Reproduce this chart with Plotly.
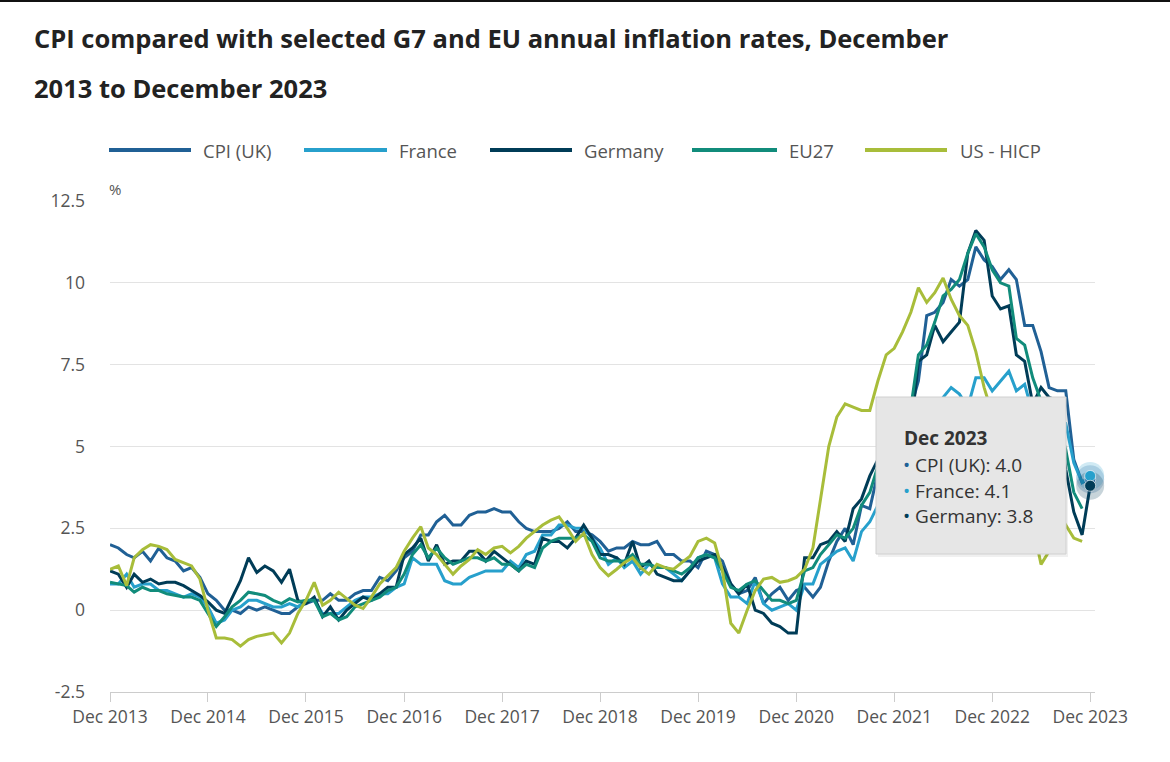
import pandas as pd
import plotly.graph_objects as go

# ---------------- data ----------------
start_month = "2013-12-01"
tick_labels = ["Dec 2013", "Dec 2014", "Dec 2015", "Dec 2016", "Dec 2017", "Dec 2018",
               "Dec 2019", "Dec 2020", "Dec 2021", "Dec 2022", "Dec 2023"]
y_tick_values = [-2.5, 0, 2.5, 5, 7.5, 10, 12.5]
y_tick_labels = ["-2.5", "0", "2.5", "5", "7.5", "10", "12.5"]

cpi_uk = [2.0,
          1.9, 1.7, 1.6, 1.8, 1.5, 1.9, 1.6, 1.5, 1.2, 1.3, 1.0, 0.5,
          0.3, 0.0, 0.0, -0.1, 0.1, 0.0, 0.1, 0.0, -0.1, -0.1, 0.1, 0.2,
          0.3, 0.3, 0.5, 0.3, 0.3, 0.5, 0.6, 0.6, 1.0, 0.9, 1.2, 1.6,
          1.8, 2.3, 2.3, 2.7, 2.9, 2.6, 2.6, 2.9, 3.0, 3.0, 3.1, 3.0,
          3.0, 2.7, 2.5, 2.4, 2.4, 2.4, 2.5, 2.7, 2.4, 2.4, 2.3, 2.1,
          1.8, 1.9, 1.9, 2.1, 2.0, 2.0, 2.1, 1.7, 1.7, 1.5, 1.5, 1.3,
          1.8, 1.7, 1.5, 0.8, 0.5, 0.6, 1.0, 0.2, 0.5, 0.7, 0.3, 0.6,
          0.7, 0.4, 0.7, 1.5, 2.1, 2.5, 2.0, 3.2, 3.1, 4.2, 5.1, 5.4,
          5.5, 6.2, 7.0, 9.0, 9.1, 9.4, 10.1, 9.9, 10.1, 11.1, 10.7, 10.5,
          10.1, 10.4, 10.1, 8.7, 8.7, 7.9, 6.8, 6.7, 6.7, 4.6, 3.9, 4.0]

france = [0.8,
          0.8, 1.1, 0.7, 0.8, 0.8, 0.6, 0.6, 0.5, 0.4, 0.5, 0.4, 0.1,
          -0.4, -0.3, 0.0, 0.1, 0.3, 0.3, 0.2, 0.1, 0.1, 0.2, 0.1, 0.3,
          0.3, -0.1, -0.1, -0.1, 0.1, 0.3, 0.4, 0.4, 0.5, 0.5, 0.7, 0.8,
          1.6, 1.4, 1.4, 1.4, 0.9, 0.8, 0.8, 1.0, 1.1, 1.2, 1.2, 1.2,
          1.5, 1.3, 1.7, 1.8, 2.3, 2.3, 2.6, 2.6, 2.5, 2.5, 2.2, 1.9,
          1.4, 1.6, 1.3, 1.5, 1.1, 1.4, 1.3, 1.3, 1.1, 0.9, 1.2, 1.6,
          1.7, 1.6, 0.8, 0.4, 0.4, 0.2, 0.9, 0.2, 0.0, 0.1, 0.2, 0.0,
          0.8, 0.8, 1.4, 1.6, 1.8, 1.9, 1.5, 2.4, 2.7, 3.2, 3.4, 3.4,
          3.3, 4.2, 5.1, 5.4, 5.8, 6.5, 6.8, 6.6, 6.2, 7.1, 7.1, 6.7,
          7.0, 7.3, 6.7, 6.9, 6.0, 5.3, 5.1, 5.7, 5.7, 4.5, 3.9, 4.1]

germany = [1.2,
           1.1, 0.7, 1.1, 0.85, 0.95, 0.8, 0.85, 0.85, 0.75, 0.6, 0.45, 0.25,
           0.0, -0.1, 0.4, 0.9, 1.6, 1.15, 1.35, 1.2, 0.85, 1.25, 0.3, 0.2,
           0.4, -0.2, 0.1, -0.3, 0.0, 0.2, 0.4, 0.3, 0.5, 0.7, 0.7, 1.7,
           1.9, 2.2, 1.5, 2.0, 1.4, 1.5, 1.5, 1.8, 1.8, 1.5, 1.8, 1.6,
           1.4, 1.2, 1.5, 1.4, 2.2, 2.1, 2.1, 1.9, 2.2, 2.6, 2.2, 1.7,
           1.7, 1.6, 1.4, 2.1, 1.3, 1.5, 1.1, 1.0, 0.9, 0.9, 1.2, 1.5,
           1.6, 1.7, 1.3, 0.8, 0.5, 0.8, 0.0, -0.1, -0.4, -0.5, -0.7, -0.7,
           1.6, 1.6, 2.0, 2.1, 2.4, 2.1, 3.1, 3.4, 4.1, 4.6, 6.0, 5.7,
           5.1, 5.5, 7.6, 7.8, 8.7, 8.2, 8.5, 8.8, 10.9, 11.6, 11.3, 9.6,
           9.2, 9.3, 7.8, 7.6, 6.3, 6.8, 6.5, 6.4, 4.3, 3.0, 2.3, 3.8]

eu27 = [0.85,
        0.8, 0.75, 0.55, 0.7, 0.6, 0.6, 0.5, 0.45, 0.4, 0.4, 0.3, -0.1,
        -0.5, -0.2, 0.1, 0.3, 0.55, 0.5, 0.45, 0.3, 0.2, 0.35, 0.25, 0.3,
        0.3, -0.2, -0.1, -0.3, -0.2, 0.1, 0.2, 0.3, 0.4, 0.6, 0.7, 1.1,
        1.7, 2.0, 1.6, 1.9, 1.6, 1.4, 1.5, 1.6, 1.6, 1.5, 1.6, 1.4,
        1.4, 1.2, 1.4, 1.3, 1.9, 2.1, 2.2, 2.2, 2.2, 2.3, 2.1, 1.6,
        1.5, 1.5, 1.5, 1.7, 1.4, 1.4, 1.3, 1.3, 1.2, 1.1, 1.3, 1.6,
        1.7, 1.6, 1.2, 0.7, 0.6, 0.8, 0.9, 0.6, 0.3, 0.3, 0.2, 0.3,
        1.2, 1.3, 1.7, 2.0, 2.3, 2.2, 2.5, 3.2, 3.6, 4.4, 5.2, 5.3,
        5.6, 6.2, 7.8, 8.1, 8.8, 9.6, 9.8, 10.1, 10.9, 11.5, 11.1, 10.4,
        10.0, 9.9, 8.3, 8.1, 7.1, 6.4, 6.1, 5.9, 4.9, 3.6, 3.1]

us_hicp = [1.25,
           1.35, 0.75, 1.6, 1.85, 2.0, 1.95, 1.85, 1.55, 1.45, 1.35, 0.95, 0.0,
           -0.85, -0.85, -0.9, -1.1, -0.9, -0.8, -0.75, -0.7, -1.0, -0.7, -0.1, 0.3,
           0.85, 0.15, 0.3, 0.55, 0.35, 0.15, 0.05, 0.4, 0.8, 1.05, 1.3, 1.8,
           2.2, 2.55, 1.9, 1.7, 1.4, 1.1, 1.35, 1.55, 1.85, 1.7, 1.9, 1.95,
           1.75, 1.95, 2.2, 2.4, 2.6, 2.75, 2.85, 2.5, 2.1, 2.35, 1.7, 1.3,
           1.05, 1.25, 1.45, 1.6, 1.3, 1.1, 1.4, 1.3, 1.25, 1.45, 1.65, 2.1,
           2.2, 2.05, 1.2, -0.4, -0.7, 0.0, 0.6, 0.95, 1.0, 0.85, 0.9, 1.0,
           1.25, 1.9, 3.4, 5.0, 5.9, 6.3, 6.2, 6.1, 6.1, 7.0, 7.8, 8.0,
           8.5, 9.1, 9.85, 9.4, 9.7, 10.15, 9.5, 9.0, 8.7, 7.9, 6.8, 6.0,
           5.4, 4.9, 4.5, 3.7, 2.6, 1.4, 1.8, 2.3, 2.6, 2.2, 2.1]

series_names = ["CPI (UK)", "France", "Germany", "EU27", "US - HICP"]
series_colors = ["#206095", "#27A0CC", "#003C57", "#118C7B", "#A8BD3A"]
series_values = [cpi_uk, france, germany, eu27, us_hicp]

months = pd.date_range(start_month, periods=len(cpi_uk), freq="MS")
tick_dates = months[::12]

# ---------------- layout helpers ----------------
W, H = 1170, 762
L, R, T, B = 110, 1095, 201, 692


def px(x):
    return (x - L) / (R - L)


def py(y):
    return (B - y) / (B - T)


fig = go.Figure()

for name, color, vals in zip(series_names, series_colors, series_values):
    fig.add_trace(go.Scatter(
        x=months[:len(vals)], y=vals, mode="lines", name=name,
        line=dict(color=color, width=3), hoverinfo="skip"))

# hover highlight at Dec 2023 (series that have a value there)
for name, color, vals in zip(series_names, series_colors, series_values):
    if len(vals) == len(months):
        fig.add_trace(go.Scatter(
            x=[months[-1]], y=[vals[-1]], mode="markers",
            marker=dict(size=28, color=color, opacity=0.22, line=dict(width=0)),
            hoverinfo="skip", showlegend=False, cliponaxis=False))
for name, color, vals in zip(series_names, series_colors, series_values):
    if len(vals) == len(months):
        fig.add_trace(go.Scatter(
            x=[months[-1]], y=[vals[-1]], mode="markers",
            marker=dict(size=11, color=color, line=dict(width=1, color="rgba(255,255,255,0.6)")),
            hoverinfo="skip", showlegend=False, cliponaxis=False))

annotations = []
shapes = []

# top border line of the screenshot
shapes.append(dict(type="line", xref="paper", yref="paper",
                   x0=px(0), x1=px(W), y0=py(1), y1=py(1),
                   line=dict(color="#111111", width=2)))

# title (two lines)
title_font = dict(family="Open Sans", size=25.5, color="#222222")
annotations.append(dict(xref="paper", yref="paper", x=px(32), y=py(38),
                        xanchor="left", yanchor="middle", showarrow=False,
                        text="<b>CPI compared with selected G7 and EU annual inflation rates, December</b>",
                        font=title_font))
annotations.append(dict(xref="paper", yref="paper", x=px(32), y=py(88),
                        xanchor="left", yanchor="middle", showarrow=False,
                        text="<b>2013 to December 2023</b>", font=title_font))

# manual legend
legend_lines = [(109, 191), (304, 387), (490, 572), (692, 777), (865, 947)]
legend_text_x = [201, 397, 582, 787, 958]
for (x0, x1), tx, name, color in zip(legend_lines, legend_text_x, series_names, series_colors):
    shapes.append(dict(type="line", xref="paper", yref="paper",
                       x0=px(x0), x1=px(x1), y0=py(150), y1=py(150),
                       line=dict(color=color, width=4)))
    annotations.append(dict(xref="paper", yref="paper", x=px(tx), y=py(150),
                            xanchor="left", yanchor="middle", showarrow=False,
                            text=name, font=dict(family="Open Sans", size=18.5, color="#555555")))

# % unit label
annotations.append(dict(xref="paper", yref="paper", x=px(107), y=py(189),
                        xanchor="left", yanchor="middle", showarrow=False,
                        text="%", font=dict(family="Open Sans", size=15, color="#555555")))

# tooltip box
shapes.append(dict(type="rect", xref="paper", yref="paper",
                   x0=px(878), x1=px(1068), y0=py(399), y1=py(557),
                   fillcolor="rgba(0,0,0,0.06)", line=dict(width=0), layer="above"))
shapes.append(dict(type="rect", xref="paper", yref="paper",
                   x0=px(876), x1=px(1066), y0=py(397), y1=py(554),
                   fillcolor="#e6e6e6", line=dict(color="#d0d0d0", width=1), layer="above"))
tip_font = dict(family="Open Sans", size=19, color="#333333")
annotations.append(dict(xref="paper", yref="paper", x=px(902), y=py(438),
                        xanchor="left", yanchor="middle", showarrow=False,
                        text="<b>Dec 2023</b>", font=tip_font))
tip_rows = [(465, 0), (491, 1), (516, 2)]
for ypix, k in tip_rows:
    annotations.append(dict(
        xref="paper", yref="paper", x=px(901), y=py(ypix),
        xanchor="left", yanchor="middle", showarrow=False,
        text=f"<span style='color:{series_colors[k]}'>•</span> {series_names[k]}: {series_values[k][-1]:.1f}",
        font=tip_font))

axis_font = dict(family="Open Sans", size=17.5, color="#555555")

fig.update_layout(
    width=W, height=H,
    margin=dict(l=L, r=W - R, t=T, b=H - B),
    paper_bgcolor="white", plot_bgcolor="white",
    showlegend=False, hovermode=False,
    font=dict(family="Open Sans", color="#555555"),
    annotations=annotations, shapes=shapes,
    xaxis=dict(
        type="date", range=[months[0], "2023-12-19"],
        tickvals=list(tick_dates), ticktext=tick_labels,
        showgrid=False, zeroline=False,
        showline=True, linecolor="#cccccc", linewidth=1,
        ticks="outside", ticklen=9, tickcolor="#cccccc", tickwidth=1,
        tickfont=axis_font, fixedrange=True),
    yaxis=dict(
        range=[-2.5, 12.5], tickvals=y_tick_values, ticktext=y_tick_labels,
        showgrid=True, gridcolor="#e3e3e3", gridwidth=1, zeroline=False,
        showline=False, ticks="", ticklabelstandoff=24,
        tickfont=axis_font, fixedrange=True),
)

fig.write_html("out.html", config={"displayModeBar": False},
               post_script="document.body.style.margin='0';")
